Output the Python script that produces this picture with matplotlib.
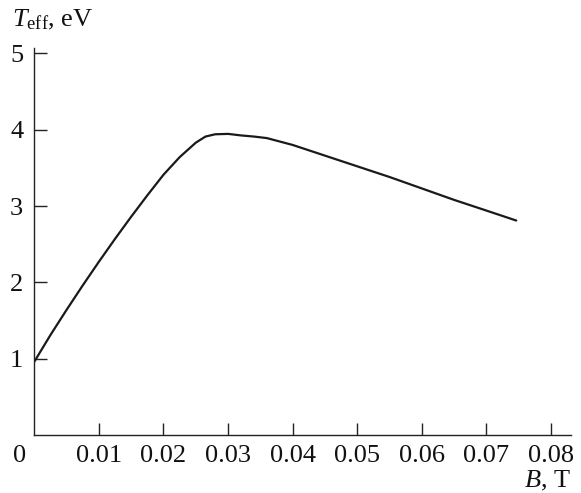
import matplotlib
matplotlib.use("Agg")
import matplotlib.pyplot as plt

plt.rcParams['font.family'] = ['Liberation Serif', 'DejaVu Serif']
plt.rcParams['mathtext.fontset'] = 'custom'
plt.rcParams['mathtext.rm'] = 'Liberation Serif'
plt.rcParams['mathtext.it'] = 'Liberation Serif:italic'

# Data
B_T = [0.0000, 0.0025, 0.0050, 0.0075, 0.0100, 0.0125, 0.0150, 0.0175, 0.0200,
       0.0225, 0.0250, 0.0265, 0.0280, 0.0300, 0.0320, 0.0340, 0.0360, 0.0380,
       0.0400, 0.0450, 0.0500, 0.0550, 0.0600, 0.0650, 0.0700, 0.0746]
T_eff = [0.96, 1.31, 1.64, 1.96, 2.27, 2.57, 2.86, 3.14, 3.41,
         3.64, 3.83, 3.91, 3.94, 3.945, 3.925, 3.91, 3.89, 3.845,
         3.80, 3.66, 3.52, 3.38, 3.23, 3.08, 2.94, 2.81]
xticks = [0.01, 0.02, 0.03, 0.04, 0.05, 0.06, 0.07, 0.08]
xticklabels = ["0.01", "0.02", "0.03", "0.04", "0.05", "0.06", "0.07", "0.08"]
yticks = [1, 2, 3, 4, 5]
yticklabels = ["1", "2", "3", "4", "5"]

fig = plt.figure(figsize=(5.81, 4.93), dpi=100)
ax = fig.add_axes([0.059, 0.1176, 0.924, 0.785])

ax.plot(B_T, T_eff, color='#1a1a1a', lw=1.6, solid_capstyle='round',
        solid_joinstyle='round')

ax.set_xlim(0, 0.0831)
ax.set_ylim(0, 5.07)
ax.set_xticks(xticks)
ax.set_xticklabels(xticklabels)
ax.set_yticks(yticks)
ax.set_yticklabels(yticklabels)

for s in ['top', 'right']:
    ax.spines[s].set_visible(False)
for s in ['left', 'bottom']:
    ax.spines[s].set_linewidth(1.0)
    ax.spines[s].set_color('#222222')

FS = 19
ax.tick_params(axis='both', direction='in', length=9, width=1.0, color='#222222',
               labelsize=FS, labelcolor='#111111')
ax.tick_params(axis='x', pad=7)
ax.tick_params(axis='y', pad=8)

# "0" at the origin corner
ax.annotate("0", xy=(0, 0), xycoords='axes fraction', xytext=(-15, -21),
            textcoords='offset pixels', ha='center', va='center',
            fontsize=FS, color='#111111')

# Axis labels
fig.text(12 / 581, 1 - 20 / 493, r"$T_{\rm eff}$, eV", ha='left', va='center',
         fontsize=FS, color='#111111')
fig.text(571 / 581, 1 - 487 / 493, "$B$, T", ha='right', va='baseline',
         fontsize=FS, color='#111111')

fig.savefig("out.png", dpi=100)
